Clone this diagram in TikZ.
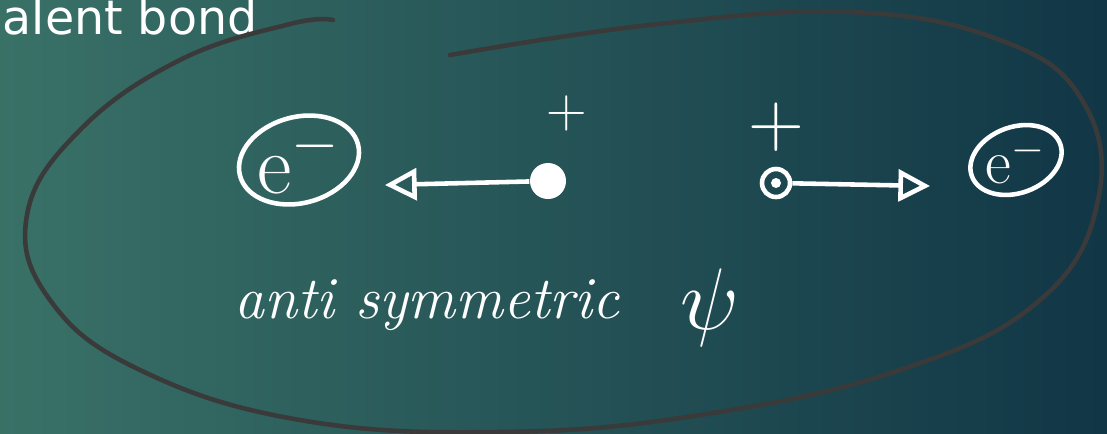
\documentclass[tikz,border=0pt]{standalone}
\usepackage{fontspec}
\usetikzlibrary{arrows.meta, positioning, shapes.geometric}
\newfontfamily\chalkfont{DejaVu Sans}
\definecolor{boardleft}{RGB}{57,113,103}
\definecolor{boardright}{RGB}{17,54,70}
\definecolor{loopgray}{RGB}{58,58,58}

\begin{document}
\begin{tikzpicture}[
    x=0.01cm, y=-0.01cm,
    electron/.style={ellipse, draw=white, line width=1.3pt, inner sep=0pt},
    etext/.style={white, font=\fontsize{24}{24}\selectfont, inner sep=0pt},
    proton/.style={circle, fill=white, minimum size=0.36cm, inner sep=0pt},
    charge/.style={white, font=\fontsize{16}{16}\selectfont, inner sep=0pt},
    arrow/.style={-{Triangle[open, length=9pt, width=9pt]}, white, line width=1.3pt},
    enclose/.style={loopgray, line width=1.3pt, line cap=round}
]
    % board
    \useasboundingbox (0,0) rectangle (1107,433);
    \clip (0,0) rectangle (1107,433);
    \shade[left color=boardleft, right color=boardright] (0,0) rectangle (1107,433);

    \node[anchor=base west, white, inner sep=0pt, font=\chalkfont\fontsize{13.5}{13.5}\selectfont] (title) at (2,34) {alent bond};

    % electrons
    \node[electron, minimum width=1.22cm, minimum height=0.86cm, rotate=15] (eL) at (299,160) {};
    \node[etext] (eLtext) at (eL) {e$^-$};
    \node[electron, minimum width=0.94cm, minimum height=0.66cm, rotate=20] (eR) at (1016,160) {};
    \node[etext, font=\fontsize{18}{18}\selectfont] (eRtext) at (eR) {e$^-$};

    % protons
    \node[proton] (pL) at (548,181) {};
    \node[charge, above=0.3cm of pL, xshift=0.19cm] (qL) {+};
    \node[circle, draw=white, line width=1.3pt, minimum size=0.28cm, inner sep=0pt] (pR) at (776,183) {};
    \fill[white] (pR) circle (5);
    \node[charge, font=\fontsize{22}{22}\selectfont, above=0.15cm of pR] (qR) {+};

    \coordinate (tipL) at (385,185);
    \coordinate (tipR) at (930,186);
    \draw[arrow] (pL) -- (tipL);
    \draw[arrow] (pR) -- (tipR);

    \node[white, anchor=base, font=\fontsize{17}{17}\selectfont\itshape] (label) at (427,318) {anti symmetric};
    \node[white, font=\fontsize{24}{24}\selectfont] (psi) at (710,308) {$\psi$};

    % enclosing loop
    \draw[enclose] plot[smooth, tension=0.7] coordinates {
        (333,20) (290,24) (180,60) (80,130) (27,215) (50,300) (140,370)
        (300,420) (500,432) (700,415) (900,370) (1040,300) (1098,200)
        (1082,100) (1000,40) (850,12) (650,25) (450,55)};
\end{tikzpicture}
\end{document}
